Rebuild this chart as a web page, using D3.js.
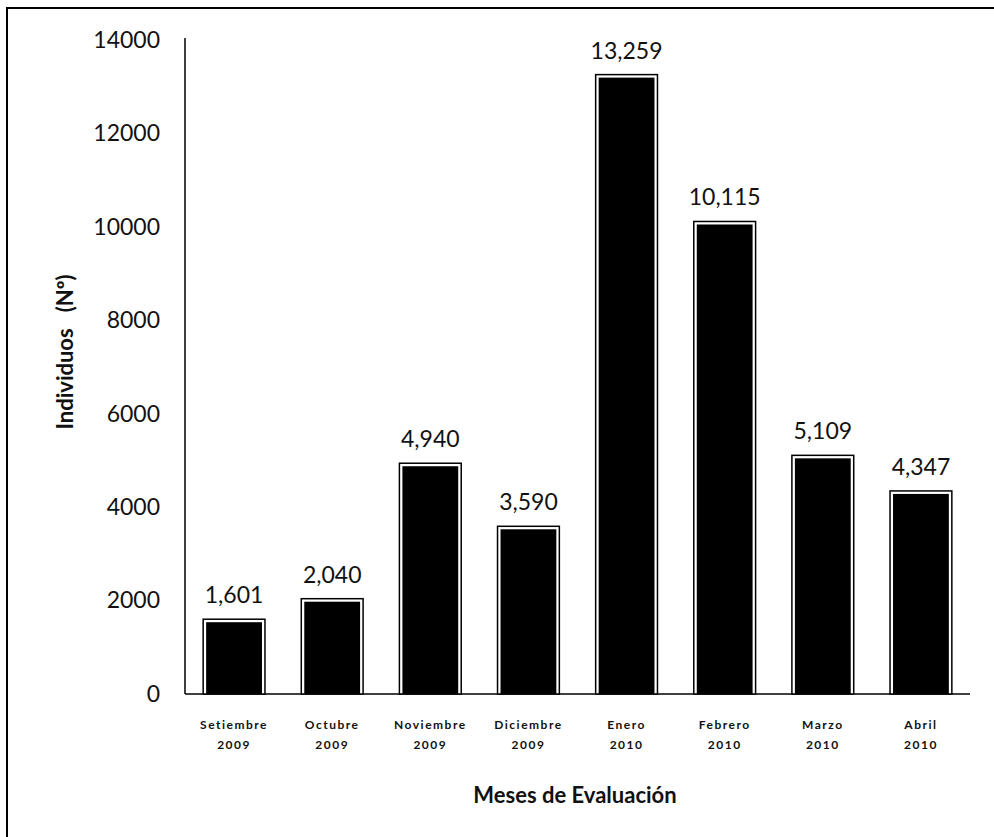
<!DOCTYPE html>
<html>
<head>
<meta charset="utf-8">
<script src="https://cdn.jsdelivr.net/npm/d3@7"></script>
<style>
  body { margin: 0; background: #fff; }
  text { font-family: Lato, "Open Sans", sans-serif; fill: #111; }
</style>
</head>
<body>
<svg id="chart" width="994" height="837"></svg>
<script>
// data
const months = ["Setiembre", "Octubre", "Noviembre", "Diciembre", "Enero", "Febrero", "Marzo", "Abril"];
const years = ["2009", "2009", "2009", "2009", "2010", "2010", "2010", "2010"];
const individuos = [1601, 2040, 4940, 3590, 13259, 10115, 5109, 4347];
const yTicks = [0, 2000, 4000, 6000, 8000, 10000, 12000, 14000];

const data = months.map((m, i) => ({ month: m, year: years[i], value: individuos[i] }));

const width = 994;
const height = 837;
const margin = { top: 40, right: 24, bottom: 143, left: 185 };
const chartWidth = width - margin.left - margin.right;
const chartHeight = height - margin.top - margin.bottom;

const root = d3.select('#chart');

// frame round the figure (only top and left are visible in the scan)
root.append('path')
    .attr('d', `M7,${height} L7,8 L${width},8`)
    .attr('fill', 'none')
    .attr('stroke', '#000')
    .attr('stroke-width', 2);

const svg = root.append('g')
    .attr('transform', `translate(${margin.left}, ${margin.top})`);

const xScale = d3.scaleBand()
    .domain(data.map(d => d.month))
    .range([0, chartWidth])
    .paddingInner(0.37)
    .paddingOuter(0.185);

const yScale = d3.scaleLinear()
    .domain([0, 14000])
    .range([chartHeight, 0]);

// Y axis
const yAxis = svg.append('g')
    .call(d3.axisLeft(yScale).tickValues(yTicks).tickSize(0).tickPadding(25).tickFormat(d3.format('d')));
yAxis.select('.domain').attr('stroke', '#000').attr('stroke-width', 1.5)
    .attr('d', `M0,${chartHeight}V-2`);
yAxis.selectAll('text')
    .style('font-family', 'Lato, "Open Sans", sans-serif')
    .style('font-size', '23px')
    .attr('fill', '#111');

// X axis line
svg.append('line')
    .attr('x1', 0).attr('x2', chartWidth)
    .attr('y1', chartHeight).attr('y2', chartHeight)
    .attr('stroke', '#000')
    .attr('stroke-width', 1.5);

// bars: black outline, thin white gap, black fill
const bars = svg.selectAll('.bar')
    .data(data)
    .enter()
    .append('g')
    .attr('class', 'bar');

bars.append('rect')
    .attr('x', d => xScale(d.month))
    .attr('y', d => yScale(d.value))
    .attr('width', xScale.bandwidth())
    .attr('height', d => chartHeight - yScale(d.value))
    .attr('fill', '#fff')
    .attr('stroke', '#000')
    .attr('stroke-width', 1.5);

bars.append('rect')
    .attr('x', d => xScale(d.month) + 3)
    .attr('y', d => yScale(d.value) + 3)
    .attr('width', xScale.bandwidth() - 6)
    .attr('height', d => chartHeight - yScale(d.value) - 3)
    .attr('fill', '#000');

// value labels
bars.append('text')
    .attr('x', d => xScale(d.month) + xScale.bandwidth() / 2)
    .attr('y', d => yScale(d.value) - 16)
    .style('text-anchor', 'middle')
    .style('font-size', '23px')
    .text(d => d3.format(',')(d.value));

// category labels
const cats = svg.selectAll('.cat')
    .data(data)
    .enter()
    .append('text')
    .attr('class', 'cat')
    .attr('x', d => xScale(d.month) + xScale.bandwidth() / 2)
    .attr('y', chartHeight + 35)
    .style('text-anchor', 'middle')
    .style('font-size', '12px')
    .style('font-weight', 'bold')
    .style('letter-spacing', '1.5px');
cats.append('tspan')
    .attr('x', d => xScale(d.month) + xScale.bandwidth() / 2)
    .text(d => d.month);
cats.append('tspan')
    .attr('x', d => xScale(d.month) + xScale.bandwidth() / 2)
    .attr('dy', 20)
    .text(d => d.year);

// x axis label
svg.append('text')
    .attr('x', 575 - margin.left)
    .attr('y', 803 - margin.top)
    .style('text-anchor', 'middle')
    .style('font-size', '22px')
    .style('font-weight', 'bold')
    .text('Meses de Evaluación');

// y axis label
svg.append('text')
    .attr('transform', 'rotate(-90)')
    .attr('x', -(352 - margin.top))
    .attr('y', 73 - margin.left)
    .style('text-anchor', 'middle')
    .style('font-size', '22px')
    .style('font-weight', 'bold')
    .attr('xml:space', 'preserve')
    .text('Individuos   (Nº)');
</script>
</body>
</html>
